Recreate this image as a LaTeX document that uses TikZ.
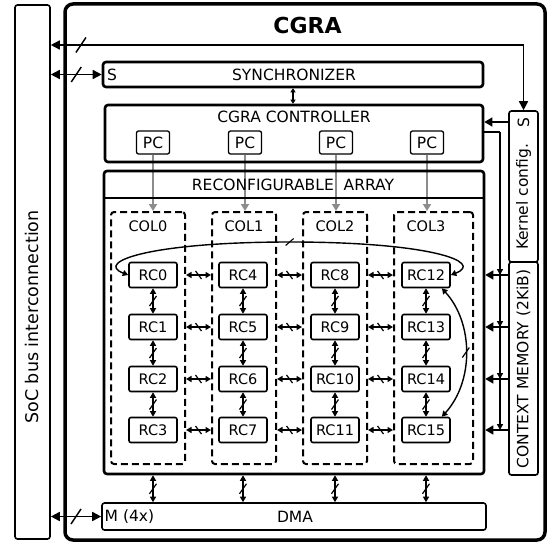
\documentclass[tikz,border=0pt]{standalone}
\usepackage{fontspec}
\setmainfont{DejaVu Sans}
\usetikzlibrary{arrows.meta,positioning,calc,fit,backgrounds,decorations.markings}
\definecolor{pcgray}{RGB}{140,140,140}
\tikzset{
  blk/.style={draw,line width=2.6pt,rounded corners=3pt,inner sep=0pt},
  thinblk/.style={draw,line width=1.6pt,rounded corners=2.5pt,inner sep=0pt},
  rcbox/.style={draw,line width=1.6pt,rounded corners=2pt,minimum width=48pt,
    minimum height=25pt,inner sep=3pt,font=\fontsize{14.5}{17}\selectfont},
  pcbox/.style={draw,line width=1.3pt,rounded corners=2pt,minimum width=33pt,
    minimum height=23pt,inner sep=2pt},
  colbox/.style={draw,line width=2pt,dash pattern=on 7pt off 4pt,
    rounded corners=3pt,inner sep=0pt},
  collabel/.style={font=\fontsize{14.5}{17}\selectfont},
  link/.style={{Triangle[length=5.5pt,width=6pt]}-{Triangle[length=5.5pt,width=6pt]},line width=1.4pt},
  thinlink/.style={{Triangle[length=4pt,width=5pt]}-{Triangle[length=4pt,width=5pt]},line width=1.1pt},
  biglink/.style={{Triangle[length=9pt,width=9pt]}-{Triangle[length=9pt,width=9pt]},line width=1.6pt},
  arr/.style={-{Triangle[length=8pt,width=9pt]},line width=1.5pt},
  arrsm/.style={-{Triangle[length=6pt,width=6pt]},line width=1.5pt},
  pcarr/.style={-{Triangle[length=7pt,width=8pt]},line width=2pt,pcgray},
  vbus/.style={postaction={decorate,decoration={markings,mark=at position #1 with
    {\pgftransformresetnontranslations\draw[-,line width=1.2pt] (-3.5pt,-5pt) -- (3.5pt,5pt);}}}},
  vbus/.default=.5,
  hbus/.style={postaction={decorate,decoration={markings,mark=at position #1 with
    {\pgftransformresetnontranslations\draw[-,line width=1.2pt] (-3pt,4pt) -- (3pt,-4pt);}}}},
  hbus/.default=.5,
  curvebus/.style={postaction={decorate,decoration={markings,mark=at position #1 with
    {\pgftransformresetnontranslations\draw[-,line width=1.1pt] (-4pt,-3.5pt) -- (4pt,3.5pt);}}}},
  curvebus/.default=.5,
  bigbus/.style={postaction={decorate,decoration={markings,mark=at position #1 with
    {\pgftransformresetnontranslations\draw[-,line width=1.5pt] (-5pt,-7.5pt) -- (5pt,7.5pt);}}}},
  bigbus/.default=.5
}

\begin{document}
\begin{tikzpicture}[x=1pt,y=1pt,font=\fontsize{15.5}{18}\selectfont]
\useasboundingbox (0,0) rectangle (548,-543);
% bus and outer block
\node[thinblk,fit={(15,-5) (50,-539)}] (soc) {};
\node[rotate=90,font=\fontsize{17.5}{20}\selectfont] (soclab) at (32,-317) {SoC bus interconnection};
\node[draw,line width=3.5pt,rounded corners=8pt,inner sep=0pt,fit={(65,-4) (545,-540)}] (cgra) {};
\node[font=\bfseries\fontsize{22}{24}\selectfont] (title) at (307.5,-25) {CGRA};

% synchronizer, controller
\node[blk,fit={(103,-62) (483,-87)}] (sync) {};
\node (synclab) at (294,-74.5) {SYNCHRONIZER};
\node[anchor=west] (syncs) at ([xshift=2pt]sync.west) {S};
\node[blk,fit={(105,-105) (483,-162)}] (ctrl) {};
\node (ctrllab) at (294,-117) {CGRA CONTROLLER};
\foreach \c/\x in {0/153,1/245,2/336,3/427}
  \node[pcbox] (pc\c) at (\x,-142.5) {PC};

% array
\node[blk,fit={(104,-171) (484,-474)}] (array) {};
\draw[line width=2.6pt] (array.west |- 0,-198) -- (array.east |- 0,-198);
\node (arraylab) at (293,-185) {RECONFIGURABLE\ \ ARRAY};
\foreach \c/\xa/\xb/\lx in {0/111/185/148,1/212/276/244,2/303/367/335,3/394/473/426}{
  \node[colbox,fit={(\xa,-212) (\xb,-464)}] (col\c) {};
  \node[collabel] (collab\c) at (\lx,-226) {COL\c};
}
\foreach \c/\x in {0/153,1/243,2/335,3/426}
  \foreach \r/\y in {0/275,1/327,2/379,3/430}{
    \pgfmathtruncatemacro{\n}{4*\c+\r}
    \node[rcbox] (rc\n) at (\x,-\y) {RC\n};
  }

% kernel config, context memory, dma
\node[thinblk,fit={(509,-111) (538,-262)}] (kc) {};
\node[rotate=90] (kcs) at (523.5,-123) {S};
\node[rotate=90] (kclab) at (523.5,-197) {Kernel config.};
\node[thinblk,fit={(509,-262) (538,-475)}] (cm) {};
\node[rotate=90] (cmlab) at (523.5,-369) {CONTEXT MEMORY (2KiB)};
\node[thinblk,fit={(102,-503) (486,-530)}] (dma) {};
\node (dmalab) at (295,-516.5) {DMA};
\node[anchor=west] (dmam) at (dma.west) {M (4x)};

% links to the bus
\draw[biglink,bigbus=.056] (soc.east |- 0,-45) -| (kc.north);
\draw[biglink,bigbus] (soc.east |- sync.west) -- (sync.west);
\draw[biglink,bigbus] (soc.east |- dma.west) -- (dma.west);

% control
\draw[thinlink] (sync.south) -- (sync.south |- ctrl.north);
\draw[arr] (kc.west |- 0,-122) -- (ctrl.east |- 0,-122);
\coordinate (tap) at (500,-132);
\draw[line width=1.5pt] (ctrl.east |- tap) -- (tap);
\foreach \n in {12,...,15}{
  \draw[arrsm] (tap) -- (tap |- rc\n);
  \draw[arr] (cm.west |- rc\n) -- (array.east |- rc\n);
}
\begin{scope}[on background layer]
\foreach \c in {0,...,3}
  \draw[pcarr] (pc\c) -- (pc\c |- col\c.north);
\end{scope}

% rc links
\foreach \c in {0,...,3}
  \foreach \r in {0,1,2}{
    \pgfmathtruncatemacro{\a}{4*\c+\r}
    \pgfmathtruncatemacro{\b}{\a+1}
    \draw[link,vbus] (rc\a) -- (rc\b);
  }
\foreach \c in {0,1,2}{
  \pgfmathtruncatemacro{\d}{\c+1}
  \foreach \r in {0,...,3}
    \draw[link,hbus] (col\c.east |- rc\r) -- (col\d.west |- rc\r);
}
\foreach \n in {3,7,11,15}
  \draw[link,vbus] (array.south -| rc\n) -- (dma.north -| rc\n);

% wrap-around
\coordinate (looptop) at (290,-242);
\draw[link,curvebus] (rc0.west) .. controls +(-34,13) and +(-140,0) .. (looptop)
  .. controls +(140,0) and +(34,13) .. (rc12.east);
\draw[link,vbus] (rc12.-40) .. controls +(32,-35) and +(32,35) .. (rc15.40);
\end{tikzpicture}
\end{document}
